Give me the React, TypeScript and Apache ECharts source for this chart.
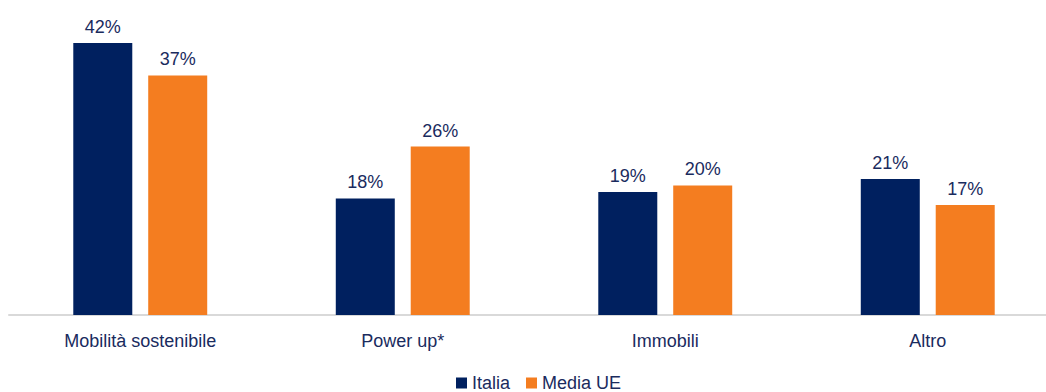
import React, { useEffect, useRef } from "react";
import * as echarts from "echarts";

const categories = ["Mobilità sostenibile", "Power up*", "Immobili", "Altro"];
const italia = [42, 18, 19, 21];
const mediaUE = [37, 26, 20, 17];
const seriesNames = ["Italia", "Media UE"];

const NAVY = "#00205F";
const ORANGE = "#F47D20";
const TEXT = "#1A2B5E";
const FONT = "'Liberation Sans', Arial, sans-serif";
const FS = 18;

export default function App() {
  const ref = useRef<HTMLDivElement>(null);
  useEffect(() => {
    if (!ref.current) return;
    const chart = echarts.init(ref.current, undefined, { renderer: "svg" });
    const label = {
      show: true,
      position: "top" as const,
      distance: 7,
      formatter: "{c}%",
      color: TEXT,
      fontSize: FS,
      fontFamily: FONT,
    };
    chart.setOption({
      animation: false,
      textStyle: { fontFamily: FONT },
      legend: {
        data: seriesNames,
        left: 456,
        top: 374,
        itemWidth: 11,
        itemHeight: 11,
        itemGap: 16,
        icon: "rect",
        padding: 0,
        textStyle: { color: TEXT, fontSize: FS, fontFamily: FONT },
      },
      grid: { left: 9, right: 1, top: 43, bottom: 77, containLabel: false },
      xAxis: {
        type: "category",
        data: categories,
        axisLine: { lineStyle: { color: "#D9D9D9", width: 2 } },
        axisTick: { show: false },
        axisLabel: { color: TEXT, fontSize: FS, fontFamily: FONT, margin: 17 },
      },
      yAxis: {
        type: "value",
        min: 0,
        max: 42,
        show: false,
        splitLine: { show: false },
      },
      series: [
        {
          name: seriesNames[0],
          type: "bar",
          data: italia,
          barWidth: 59,
          barGap: "27%",
          itemStyle: { color: NAVY },
          label,
        },
        {
          name: seriesNames[1],
          type: "bar",
          data: mediaUE,
          barWidth: 59,
          barGap: "27%",
          itemStyle: { color: ORANGE },
          label,
        },
      ],
    });
    return () => chart.dispose();
  }, []);
  return (
    <div
      style={{
        position: "absolute",
        left: 0,
        top: 0,
        width: 1046,
        height: 392,
        overflow: "hidden",
      }}
    >
      <div ref={ref} style={{ width: 1060, height: 392 }} />
    </div>
  );
}
